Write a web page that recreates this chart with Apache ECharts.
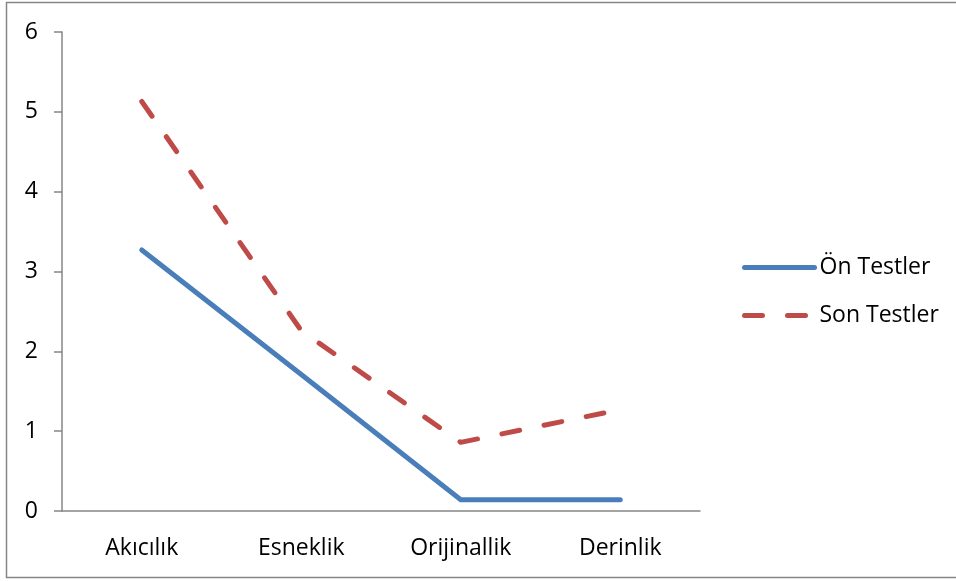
<!DOCTYPE html>
<html>
<head>
<meta charset="utf-8">
<script src="https://cdn.jsdelivr.net/npm/echarts@6/dist/echarts.min.js"></script>
<style>
  html, body { margin: 0; padding: 0; background: #ffffff; }
  #chart { width: 956px; height: 581px; }
</style>
</head>
<body>
<div id="chart"></div>
<script>
// Kategoriler ve ortalama puanlar
const categories = ['Akıcılık', 'Esneklik', 'Orijinallik', 'Derinlik'];
const onTestler = [3.27, 1.71, 0.14, 0.14];
const sonTestler = [5.13, 2.26, 0.86, 1.27];
const yTicks = { min: 0, max: 6, interval: 1 };

const axisGray = '#868686';
const fontFamily = '"Open Sans", "Noto Sans", sans-serif';

const chart = echarts.init(document.getElementById('chart'), null, { renderer: 'canvas' });

chart.setOption({
  animation: false,
  backgroundColor: '#ffffff',
  textStyle: { fontFamily: fontFamily },
  graphic: [{
    type: 'rect',
    shape: { x: 6.5, y: 2.5, width: 970, height: 575 },
    style: { fill: 'none', stroke: axisGray, lineWidth: 1.5 },
    silent: true
  }],
  grid: { left: 62, right: 256, top: 32, bottom: 70, containLabel: false },
  legend: {
    orient: 'vertical',
    left: 737,
    top: 251,
    itemWidth: 70,
    itemHeight: 22,
    itemGap: 25,
    itemStyle: { opacity: 0 },
    lineStyle: { width: 5, cap: 'round' },
    textStyle: { fontSize: 23, color: '#000000', fontFamily: fontFamily, padding: [0, 0, 0, 0] },
    data: ['Ön Testler', 'Son Testler']
  },
  xAxis: {
    type: 'category',
    data: categories,
    boundaryGap: true,
    axisLine: { lineStyle: { color: axisGray, width: 1.5 } },
    axisTick: { length: 7, lineStyle: { color: axisGray, width: 1.5 } },
    axisLabel: { color: '#000000', fontSize: 23, margin: 26, fontFamily: fontFamily }
  },
  yAxis: {
    type: 'value',
    min: yTicks.min,
    max: yTicks.max,
    interval: yTicks.interval,
    splitLine: { show: false },
    axisLine: { show: true, lineStyle: { color: axisGray, width: 1.5 } },
    axisTick: { show: true, length: 8, lineStyle: { color: axisGray, width: 1.5 } },
    axisLabel: { color: '#000000', fontSize: 23, margin: 24, fontFamily: fontFamily }
  },
  series: [
    {
      name: 'Ön Testler',
      type: 'line',
      data: onTestler,
      symbol: 'none',
      color: '#4a7ebb',
      lineStyle: { color: '#4a7ebb', width: 5, cap: 'round', join: 'miter' }
    },
    {
      name: 'Son Testler',
      type: 'line',
      data: sonTestler,
      symbol: 'none',
      color: '#be4b48',
      lineStyle: { color: '#be4b48', width: 5, type: [18, 25], cap: 'round', join: 'round' }
    }
  ]
});
</script>
</body>
</html>
